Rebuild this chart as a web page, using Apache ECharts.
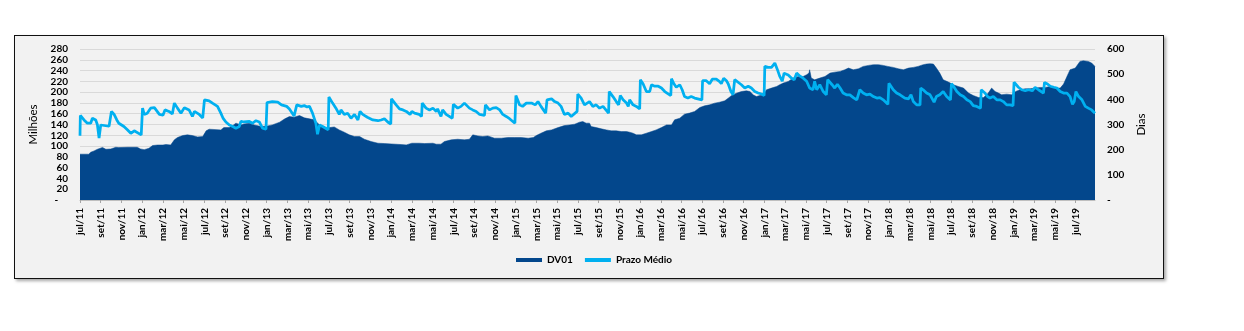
<!DOCTYPE html>
<html><head><meta charset="utf-8">
<script src="https://cdn.jsdelivr.net/npm/echarts@6/dist/echarts.min.js"></script>
<style>
html,body{margin:0;padding:0;background:#fff;}
#frame{position:absolute;left:14px;top:35px;width:1148px;height:242px;background:#f2f2f2;border:1px solid #111;box-shadow:2px 2px 3px rgba(0,0,0,0.35);}
#chart{position:absolute;left:0;top:0;width:1244px;height:331px;}
</style></head><body>
<div id="frame"></div><div id="chart"></div>
<script>
const monthNames = ['jan','fev','mar','abr','mai','jun','jul','ago','set','out','nov','dez'];
const seriesNames = ['DV01', 'Prazo Médio'];

const dv01Dates = ['2011-07-01','2011-07-27','2011-08-02','2011-08-12','2011-08-22','2011-09-06','2011-09-16','2011-09-30','2011-10-15','2011-10-24','2011-11-18','2011-12-17','2011-12-27',
'2012-01-07','2012-01-21','2012-02-01','2012-02-15','2012-03-01','2012-03-10','2012-03-24','2012-04-04','2012-04-13','2012-04-28','2012-05-12','2012-05-27','2012-06-11','2012-06-26','2012-07-06','2012-07-15','2012-08-19','2012-08-28','2012-09-13','2012-09-23','2012-10-02','2012-10-17','2012-10-26','2012-11-11','2012-11-25','2012-12-15',
'2013-01-04','2013-01-18','2013-02-08','2013-02-22','2013-03-07','2013-03-21','2013-04-06','2013-04-20','2013-05-05','2013-05-19','2013-06-04','2013-06-18','2013-07-03','2013-07-17','2013-08-01','2013-08-16','2013-08-31','2013-09-15','2013-09-30','2013-10-14','2013-11-03','2013-11-23','2013-12-12',
'2014-01-01','2014-01-31','2014-02-14','2014-03-01','2014-03-23','2014-04-08','2014-05-02','2014-05-12','2014-05-26','2014-06-05','2014-06-25','2014-07-14','2014-08-03','2014-08-18','2014-08-28','2014-09-12','2014-09-26','2014-10-11','2014-10-31','2014-11-20','2014-12-09','2014-12-28',
'2015-01-18','2015-02-07','2015-02-21','2015-03-01','2015-03-15','2015-03-31','2015-04-15','2015-05-04','2015-05-23','2015-06-08','2015-06-22','2015-07-06','2015-07-16','2015-07-26','2015-08-05','2015-08-10','2015-08-25','2015-09-09','2015-09-24','2015-10-08','2015-10-23','2015-11-07','2015-11-22','2015-12-01','2015-12-11','2015-12-21',
'2016-01-05','2016-01-20','2016-02-04','2016-02-17','2016-03-03','2016-03-18','2016-04-02','2016-04-11','2016-04-26','2016-05-10','2016-05-25','2016-06-09','2016-06-24','2016-07-08','2016-07-23','2016-08-07','2016-08-22','2016-09-06','2016-09-16','2016-09-26','2016-10-10','2016-10-25','2016-11-09','2016-11-19','2016-11-29','2016-12-08','2016-12-18','2016-12-28',
'2017-01-07','2017-01-22','2017-02-06','2017-02-14','2017-02-24','2017-03-10','2017-03-25','2017-04-09','2017-04-23','2017-05-03','2017-05-10','2017-05-12','2017-05-17','2017-05-27','2017-06-11','2017-06-26','2017-07-11','2017-07-25','2017-08-10','2017-08-24','2017-09-04','2017-09-18','2017-10-03','2017-10-17','2017-11-02','2017-11-16','2017-12-01','2017-12-15','2017-12-29',
'2018-01-14','2018-01-29','2018-02-12','2018-02-26','2018-03-12','2018-03-26','2018-04-10','2018-04-20','2018-04-30','2018-05-04','2018-05-10','2018-05-19','2018-05-29','2018-06-08','2018-06-23','2018-07-08','2018-07-22','2018-08-07','2018-08-22','2018-09-05','2018-09-20','2018-10-05','2018-10-19','2018-10-29','2018-11-08','2018-11-18','2018-11-27','2018-12-12','2018-12-27',
'2019-01-08','2019-01-21','2019-02-05','2019-02-18','2019-03-04','2019-03-19','2019-04-03','2019-04-17','2019-05-02','2019-05-17','2019-05-27','2019-06-06','2019-06-15','2019-06-30','2019-07-14','2019-07-24','2019-08-08','2019-08-18','2019-08-28'];
const dv01Values = [85,85,88.6,91,94,97.5,94,94.6,97.8,97.2,97.8,97.8,94.6,
93.4,95.8,101,102,102,103,102,111.5,115.9,119.5,120.8,119.5,117,117.7,128.2,131.3,130,134.3,134.3,138,142.5,139.3,141,142.5,139.3,136.2,
137.4,139.3,144.3,150.5,154.8,153.6,156.7,152.3,150.5,148.6,139.3,133,134.3,135.5,130,125.7,120.8,117.7,117.7,112.7,108.4,105.3,104.7,
104,102.8,102.2,105.3,105.3,104.7,105.3,103.5,103.5,108.4,111.5,112.7,111.5,112.7,120.8,118.9,117.7,118.9,114.6,114.6,115.9,115.9,
115.9,114.6,115.9,119.5,123.9,128.2,130,134.3,138,139.3,140.6,144.3,145.5,142.5,142.5,136.2,134.3,131.9,130,128.2,128.2,126.9,126.9,125.7,123.9,120.8,
120.8,123.9,126.9,130,134.3,139.3,139.3,148.6,151.7,159.2,161.1,164.2,171.5,174.6,176.4,179.6,181.4,183.9,188.8,193.8,198,201.1,202.4,201.1,194.9,191.8,193.8,194.9,
204.4,207.5,210.6,213.7,216.8,219.8,226,229.1,229.1,232.2,235.3,241.5,226,222.9,226,229.1,235.3,237.1,238.4,241.5,244.6,241.5,243.4,247.7,249.6,250.9,250.9,249.6,247.7,
245.9,243.4,241.5,244.6,245.9,247.7,250.9,252.1,252.7,254,252.1,244.6,235.3,223,218.6,213.7,210.6,207.5,198.2,193.8,190.1,190.1,198.2,207.5,201.3,198.2,195.1,196.3,195.1,
201.3,204.4,206.3,206.3,207.5,208.7,208.7,210.6,207.5,207.5,214.9,229.1,241.5,244.6,257,258.3,257,254,247.7];

const prazoDates = ['2011-07-01','2011-07-02','2011-07-13','2011-07-23','2011-08-02','2011-08-07','2011-08-17','2011-08-22','2011-08-27','2011-09-01','2011-09-11','2011-09-25','2011-09-30','2011-10-02','2011-10-10','2011-10-18','2011-10-24','2011-11-08','2011-11-18','2011-11-28','2011-12-08','2011-12-29',
'2012-01-02','2012-01-07','2012-01-16','2012-01-26','2012-02-06','2012-02-20','2012-03-01','2012-03-07','2012-03-19','2012-03-29','2012-04-04','2012-04-13','2012-04-23','2012-05-03','2012-05-17','2012-05-27','2012-06-02','2012-06-16','2012-06-26','2012-07-01','2012-07-15','2012-07-25','2012-08-09','2012-08-19','2012-08-26','2012-09-03','2012-09-13','2012-09-23','2012-10-02','2012-10-12','2012-10-17','2012-10-26','2012-11-11','2012-11-20','2012-11-30','2012-12-10','2012-12-20','2012-12-30',
'2013-01-02','2013-01-18','2013-02-03','2013-02-13','2013-02-27','2013-03-07','2013-03-21','2013-03-29','2013-04-11','2013-04-20','2013-04-28','2013-05-05','2013-05-14','2013-05-24','2013-05-29','2013-06-04','2013-06-13','2013-06-29','2013-07-01','2013-07-12','2013-07-22','2013-08-01','2013-08-06','2013-08-16','2013-08-26','2013-09-05','2013-09-15','2013-09-25','2013-10-01','2013-10-09','2013-10-23','2013-11-08','2013-11-23','2013-12-02','2013-12-12','2013-12-22','2013-12-31',
'2014-01-02','2014-01-16','2014-01-26','2014-02-05','2014-02-14','2014-02-24','2014-03-01','2014-03-09','2014-03-23','2014-03-30','2014-04-01','2014-04-12','2014-04-22','2014-05-02','2014-05-12','2014-05-16','2014-05-26','2014-05-31','2014-06-10','2014-06-28','2014-07-01','2014-07-14','2014-07-24','2014-08-03','2014-08-18','2014-08-28','2014-09-07','2014-09-17','2014-10-01','2014-10-04','2014-10-16','2014-10-26','2014-11-05','2014-11-15','2014-11-24','2014-12-04','2014-12-14','2014-12-30',
'2015-01-02','2015-01-13','2015-01-22','2015-02-02','2015-02-16','2015-02-26','2015-03-06','2015-03-15','2015-03-29','2015-04-02','2015-04-15','2015-04-24','2015-05-04','2015-05-13','2015-05-23','2015-06-03','2015-06-12','2015-06-29','2015-07-01','2015-07-11','2015-07-21','2015-08-05','2015-08-15','2015-08-25','2015-09-04','2015-09-14','2015-09-30','2015-10-02','2015-10-13','2015-10-23','2015-10-30','2015-11-04','2015-11-12','2015-11-22','2015-11-27','2015-12-01','2015-12-11','2015-12-21','2015-12-31',
'2016-01-02','2016-01-10','2016-01-20','2016-01-30','2016-02-04','2016-02-13','2016-02-23','2016-03-03','2016-03-13','2016-03-31','2016-04-02','2016-04-09','2016-04-16','2016-04-26','2016-05-03','2016-05-10','2016-05-20','2016-05-30','2016-06-09','2016-06-30','2016-07-02','2016-07-13','2016-07-23','2016-07-31','2016-08-12','2016-08-22','2016-08-27','2016-09-03','2016-09-11','2016-09-16','2016-09-24','2016-09-30','2016-10-05','2016-10-25','2016-11-04','2016-11-14','2016-11-23','2016-12-03','2016-12-13','2016-12-23','2016-12-31',
'2017-01-02','2017-01-12','2017-01-22','2017-02-01','2017-02-08','2017-02-14','2017-02-21','2017-02-26','2017-03-10','2017-03-20','2017-03-28','2017-04-04','2017-04-14','2017-04-23','2017-05-03','2017-05-12','2017-05-17','2017-05-22','2017-05-27','2017-06-02','2017-06-11','2017-06-21','2017-06-30','2017-07-04','2017-07-17','2017-07-25','2017-08-02','2017-08-10','2017-08-19','2017-08-29','2017-09-08','2017-09-18','2017-09-28','2017-10-07','2017-10-17','2017-10-27','2017-11-06','2017-11-16','2017-11-26','2017-12-05','2017-12-15','2017-12-29',
'2018-01-01','2018-01-14','2018-01-24','2018-02-03','2018-02-16','2018-02-26','2018-03-05','2018-03-12','2018-03-22','2018-04-01','2018-04-03','2018-04-10','2018-04-20','2018-04-30','2018-05-05','2018-05-12','2018-05-19','2018-05-29','2018-06-08','2018-06-18','2018-06-29','2018-07-02','2018-07-08','2018-07-18','2018-07-28','2018-08-07','2018-08-17','2018-08-27','2018-09-05','2018-09-15','2018-09-26','2018-09-28','2018-10-09','2018-10-17','2018-10-24','2018-11-03','2018-11-13','2018-11-23','2018-12-02','2018-12-12','2018-12-22','2018-12-31',
'2019-01-03','2019-01-16','2019-01-26','2019-02-05','2019-02-14','2019-02-24','2019-03-04','2019-03-14','2019-03-29','2019-04-01','2019-04-08','2019-04-18','2019-04-28','2019-05-07','2019-05-17','2019-05-27','2019-06-06','2019-06-15','2019-06-22','2019-06-27','2019-07-02','2019-07-10','2019-07-20','2019-07-30','2019-08-08','2019-08-18','2019-08-28'];
const prazoValues = [255,336,318,305,305,325,318,299,246,298,296,293,290,352,340,318,305,292,279,265,275,259,
365,340,345,365,367,340,337,358,352,342,385,365,345,367,358,332,352,340,326,398,394,385,372,345,324,310,298,292,285,292,312,310,312,305,315,310,285,281,
387,391,389,378,372,362,334,378,372,375,370,372,345,305,261,298,292,279,409,385,365,340,358,340,345,325,340,318,352,340,329,318,315,318,323,310,302,
402,378,362,358,352,340,352,345,340,332,385,365,358,365,352,362,332,358,340,325,380,365,372,385,365,358,352,340,336,378,358,365,367,358,340,332,323,305,
415,378,372,385,385,378,391,372,345,398,402,391,385,372,340,345,332,352,421,405,378,391,372,378,365,372,345,431,411,391,378,415,398,385,372,398,378,372,362,
478,462,431,431,458,452,452,445,431,415,482,462,448,458,438,411,405,411,405,398,474,474,462,480,480,470,462,484,474,462,431,418,478,458,445,452,445,431,425,421,415,
531,527,527,544,518,492,472,504,497,484,478,504,492,484,472,445,452,438,472,438,458,431,418,478,458,445,460,445,425,418,418,407,398,438,425,418,421,411,405,407,398,380,
464,438,425,418,405,402,418,391,378,378,445,438,425,418,418,389,411,418,431,411,398,462,452,431,418,411,398,391,375,372,365,438,425,411,405,411,398,398,391,378,378,375,
468,448,438,434,438,434,448,438,425,467,462,452,448,445,431,425,425,411,380,391,431,411,398,372,365,358,345];

// date -> months elapsed since 1 Jul 2011 (scale transform for the x axis)
function toMonths(s) {
  const p = s.split('-').map(Number);
  const dim = new Date(p[0], p[1], 0).getDate();
  return (p[0] - 2011) * 12 + (p[1] - 7) + (p[2] - 1) / dim;
}
const dv01Data = dv01Dates.map((d, i) => [toMonths(d), dv01Values[i]]);
const prazoData = prazoDates.map((d, i) => [toMonths(d), prazoValues[i]]);
const xMax = toMonths(dv01Dates[dv01Dates.length - 1]);

const FONT = 'Lato';
const lbl = { fontFamily: FONT, fontSize: 10, fontWeight: 'bold', color: '#000' };

const chart = echarts.init(document.getElementById('chart'), null, { renderer: 'canvas' });
chart.setOption({
  backgroundColor: 'transparent',
  animation: false,
  grid: { left: 80, right: 149, top: 49, bottom: 131 },
  legend: {
    data: [{ name: seriesNames[0], icon: 'rect' }, { name: seriesNames[1], icon: 'rect' }],
    left: 511, top: 250, itemWidth: 26, itemHeight: 4, itemGap: 12,
    textStyle: { fontFamily: FONT, fontSize: 10, fontWeight: 'bold', color: '#000' }
  },
  xAxis: {
    type: 'value', min: 0, max: xMax, interval: 2,
    axisLine: { show: true, lineStyle: { color: '#bfbfbf', width: 1 } },
    axisTick: { show: true, length: 3, lineStyle: { color: '#a6a6a6' } },
    splitLine: { show: false },
    axisLabel: Object.assign({}, lbl, {
      rotate: 90, margin: 8, showMaxLabel: false,
      formatter: function (v) {
        const r = Math.round(v);
        if (Math.abs(v - r) > 1e-6 || r % 2) return '';
        const idx = 6 + r;
        return monthNames[idx % 12] + '/' + String(11 + Math.floor(idx / 12)).padStart(2, '0');
      }
    })
  },
  yAxis: [{
    type: 'value', min: 0, max: 280, interval: 20,
    name: 'Milhões', nameLocation: 'middle', nameGap: 36,
    nameTextStyle: { fontFamily: FONT, fontSize: 11.5, color: '#000' },
    axisLine: { show: false }, axisTick: { show: false },
    splitLine: { show: true, lineStyle: { color: '#d9d9d9', width: 1 } },
    axisLabel: Object.assign({}, lbl, { margin: 12, formatter: v => v === 0 ? '-    ' : String(v) })
  }, {
    type: 'value', min: 0, max: 600, interval: 100,
    name: 'Dias', nameLocation: 'middle', nameGap: 40,
    nameTextStyle: { fontFamily: FONT, fontSize: 11.5, color: '#000' },
    axisLine: { show: false }, axisTick: { show: false }, splitLine: { show: false },
    axisLabel: Object.assign({}, lbl, { margin: 12, formatter: v => v === 0 ? '-' : String(v) })
  }],
  series: [{
    name: seriesNames[0], type: 'line', data: dv01Data, yAxisIndex: 0,
    showSymbol: false, symbol: 'none',
    lineStyle: { width: 0.5, color: '#03478c' },
    itemStyle: { color: '#03478c' },
    areaStyle: { color: '#03478c', opacity: 1 }
  }, {
    name: seriesNames[1], type: 'line', data: prazoData, yAxisIndex: 1,
    showSymbol: false, symbol: 'none',
    lineStyle: { width: 2.75, color: '#00b0f0' },
    itemStyle: { color: '#00b0f0' }
  }]
});
</script></body></html>
